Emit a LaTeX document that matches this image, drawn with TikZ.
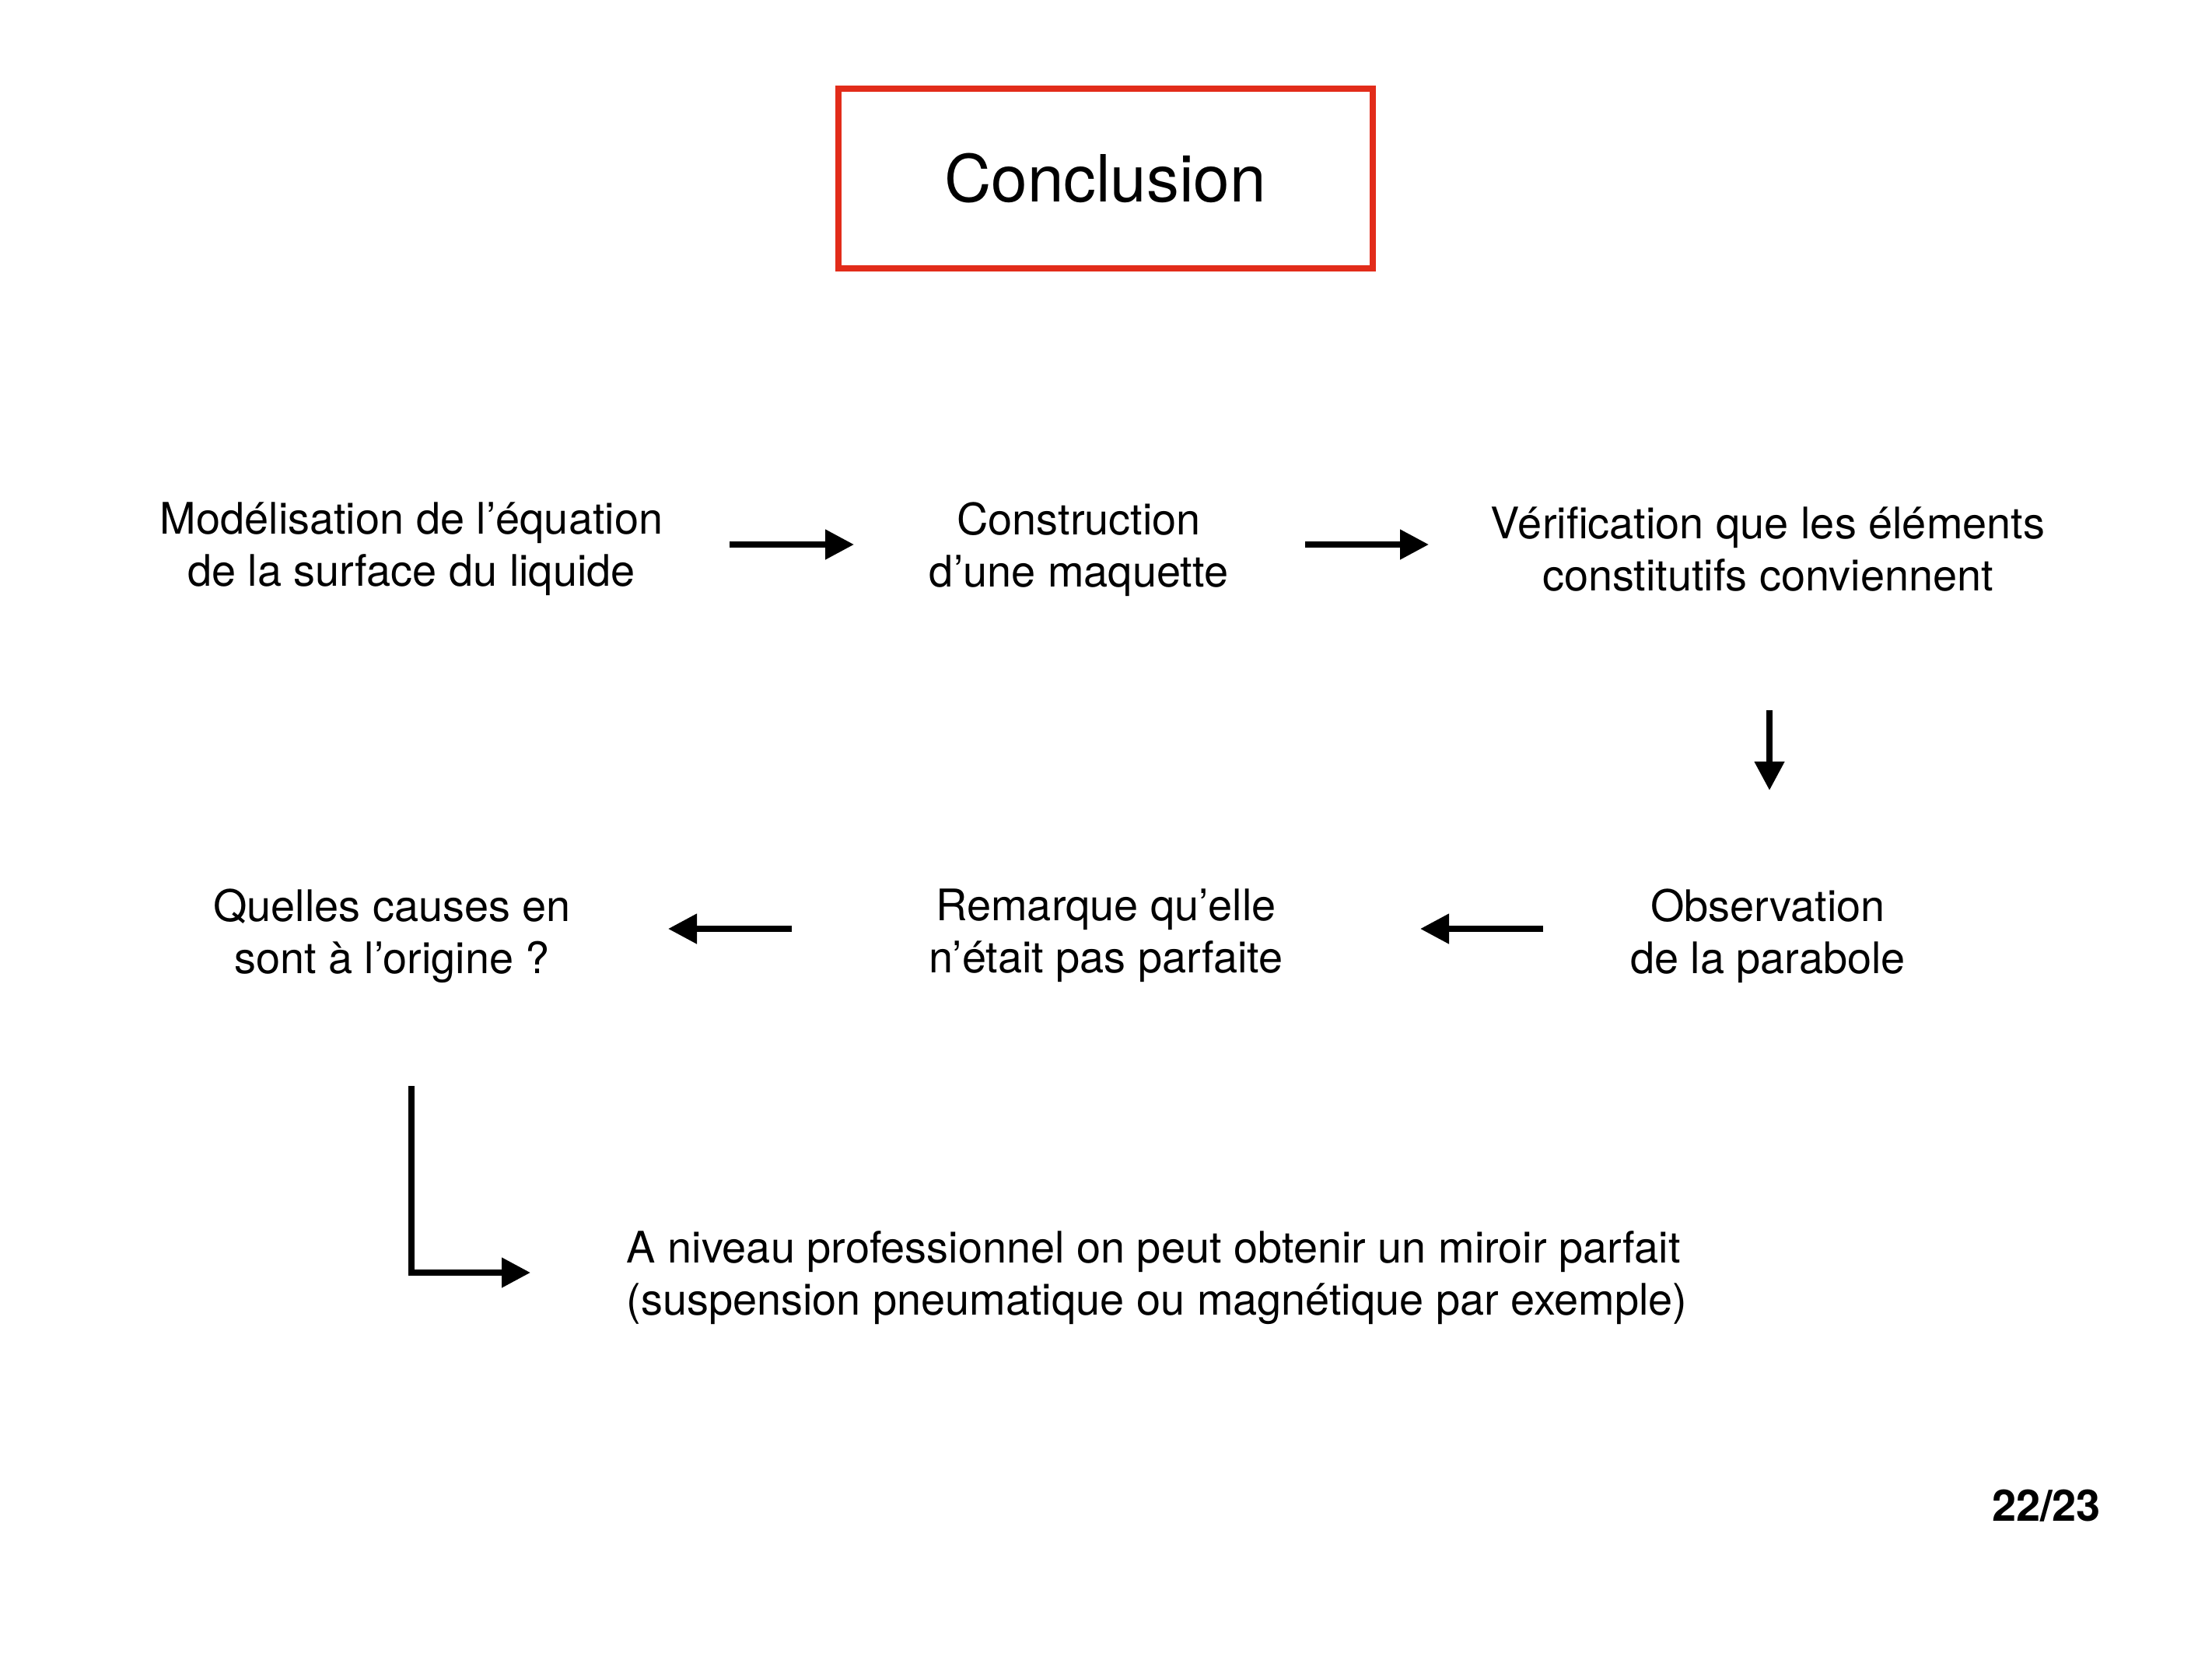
\documentclass[tikz,border=0pt]{standalone}
\usepackage{fontspec}
\setmainfont{TeX Gyre Heros}
\usepackage{tikz}
\usetikzlibrary{arrows.meta,positioning,calc}
\definecolor{titlered}{RGB}{226,44,26}

\begin{document}
\begin{tikzpicture}[
    stepbox/.style={align=center,inner sep=0pt,
                font=\fontsize{15.9}{19.1}\selectfont},
    titlebox/.style={draw=titlered,line width=0.08cm,minimum width=6.87cm,
                minimum height=2.31cm,font=\fontsize{23.8}{28}\selectfont},
    link/.style={line width=0.077cm,-{Triangle[length=0.37cm,width=0.37cm]}}
  ]
    \useasboundingbox[fill=white] (0,0) rectangle (28.44,-21.33);
    \node[titlebox] (title) at (14.21,-2.29) {Conclusion};
    % first row
    \node[stepbox] (model) at (5.29,-7.06)
          {Modélisation de l’équation\\de la surface du liquide};
    \node[stepbox] (build) at (13.87,-7.06)
          {Construction\\d’une maquette};
    \node[stepbox] (check) at (22.73,-7.06)
          {Vérification que les éléments\\constitutifs conviennent};
    % second row
    \node[stepbox] (cause) at (5.04,-12.03)
          {Quelles causes en\\sont à l’origine ?};
    \node[stepbox] (remark) at (14.22,-12.03)
          {Remarque qu’elle\\n’était pas parfaite};
    \node[stepbox] (observ) at (22.73,-12.03)
          {Observation\\de la parabole};
    \node[stepbox,align=left,anchor=west] (pro) at (8.05,-16.43)
          {A niveau professionnel on peut obtenir un miroir parfait\\
           (suspension pneumatique ou magnétique par exemple)};
    \node[font=\bfseries\fontsize{15.9}{19.1}\selectfont] (page) at (26.31,-19.36) {22/23};
    \draw[link] ($(model.center)+(4.09,0.06)$) -- ($(build.center)+(-2.89,0.06)$);
    \draw[link] ($(build.center)+(2.91,0.06)$) -- ($(check.center)+(-4.36,0.06)$);
    \draw[link] ($(check.center)+(0.02,-2.07)$) -- ($(observ.center)+(0.02,1.87)$);
    \draw[link] ($(observ.center)+(-2.89,0.09)$) -- ($(remark.center)+(4.04,0.09)$);
    \draw[link] ($(remark.center)+(-4.04,0.09)$) -- ($(cause.center)+(3.55,0.09)$);
    \coordinate (turn) at ($(cause.center)+(0.25,-1.93)$);
    \coordinate (proend) at ($(pro.west)+(-1.23,0.07)$);
    \draw[link,line join=miter] (turn) |- (proend);
  \end{tikzpicture}
\end{document}
